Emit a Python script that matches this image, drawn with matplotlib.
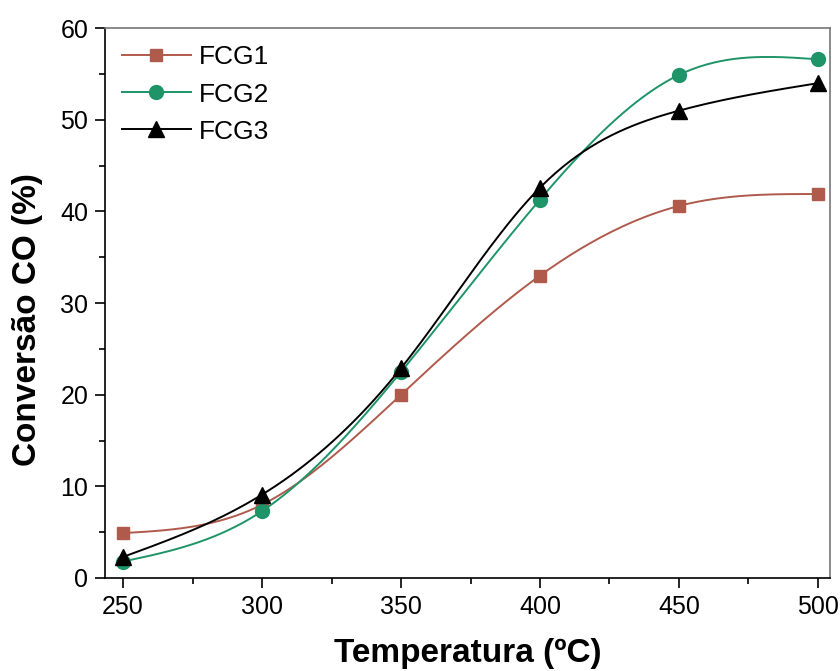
import numpy as np
import matplotlib
matplotlib.use("Agg")
import matplotlib.pyplot as plt
from matplotlib.ticker import MultipleLocator

plt.rcParams['font.family'] = ['Liberation Sans', 'DejaVu Sans']

temps = [250, 300, 350, 400, 450, 500]
fcg1 = [4.9, 8.0, 20.0, 33.0, 40.6, 41.9]
fcg2 = [1.8, 7.3, 22.5, 41.3, 54.9, 56.6]
fcg3 = [2.3, 9.1, 22.9, 42.6, 51.0, 54.0]


def spline(x, y, n=200):
    # natural cubic spline, just for the smooth connecting line
    x = np.asarray(x, float)
    y = np.asarray(y, float)
    k = len(x)
    h = np.diff(x)
    A = np.zeros((k, k))
    b = np.zeros(k)
    A[0, 0] = A[-1, -1] = 1
    for i in range(1, k - 1):
        A[i, i - 1] = h[i - 1]
        A[i, i] = 2 * (h[i - 1] + h[i])
        A[i, i + 1] = h[i]
        b[i] = 6 * ((y[i + 1] - y[i]) / h[i] - (y[i] - y[i - 1]) / h[i - 1])
    M = np.linalg.solve(A, b)
    xs = np.linspace(x[0], x[-1], n)
    idx = np.clip(np.searchsorted(x, xs) - 1, 0, k - 2)
    x0, x1 = x[idx], x[idx + 1]
    hh = x1 - x0
    ys = (M[idx] * (x1 - xs) ** 3 / (6 * hh) + M[idx + 1] * (xs - x0) ** 3 / (6 * hh)
          + (y[idx] / hh - M[idx] * hh / 6) * (x1 - xs)
          + (y[idx + 1] / hh - M[idx + 1] * hh / 6) * (xs - x0))
    return xs, ys


fig = plt.figure(figsize=(8.4, 6.71), dpi=100)
ax = fig.add_axes([0.125, 0.1386, 0.863, 0.8194])

series = [
    ('FCG1', fcg1, '#b05a4c', 's', 8),
    ('FCG2', fcg2, '#1e9468', 'o', 10),
    ('FCG3', fcg3, 'black', '^', 11),
]
for name, vals, col, mk, ms in series:
    xs, ys = spline(temps, vals)
    ax.plot(xs, ys, color=col, lw=1.4)
    ax.plot(temps, vals, linestyle='none', marker=mk, color=col, ms=ms)
    # legend proxy
    ax.plot([], [], color=col, lw=1.4, marker=mk, ms=ms, label=name)

ax.set_xlim(243.5, 504.3)
ax.set_ylim(0, 60)
ax.xaxis.set_major_locator(MultipleLocator(50))
ax.xaxis.set_minor_locator(MultipleLocator(25))
ax.yaxis.set_major_locator(MultipleLocator(10))
ax.yaxis.set_minor_locator(MultipleLocator(5))
ax.tick_params(which='both', direction='out', top=False, right=False, labelsize=18, width=1.2)
ax.tick_params(which='major', length=7, pad=5)
ax.tick_params(which='minor', length=4)
for s in ax.spines.values():
    s.set_linewidth(1.2)
ax.spines['top'].set_color('#777777')
ax.spines['right'].set_color('#777777')

ax.set_xlabel('Temperatura (ºC)', fontsize=24, fontweight='bold', labelpad=14)
ax.set_ylabel('Conversão CO (%)', fontsize=24, fontweight='bold')
ax.yaxis.set_label_coords(-0.085, 0.47)

ax.legend(loc='upper left', frameon=False, fontsize=19, handlelength=2.6,
          labelspacing=0.5, handletextpad=0.3, borderaxespad=0.25,
          bbox_to_anchor=(0.0, 1.0))

fig.savefig('out.png', dpi=100)
